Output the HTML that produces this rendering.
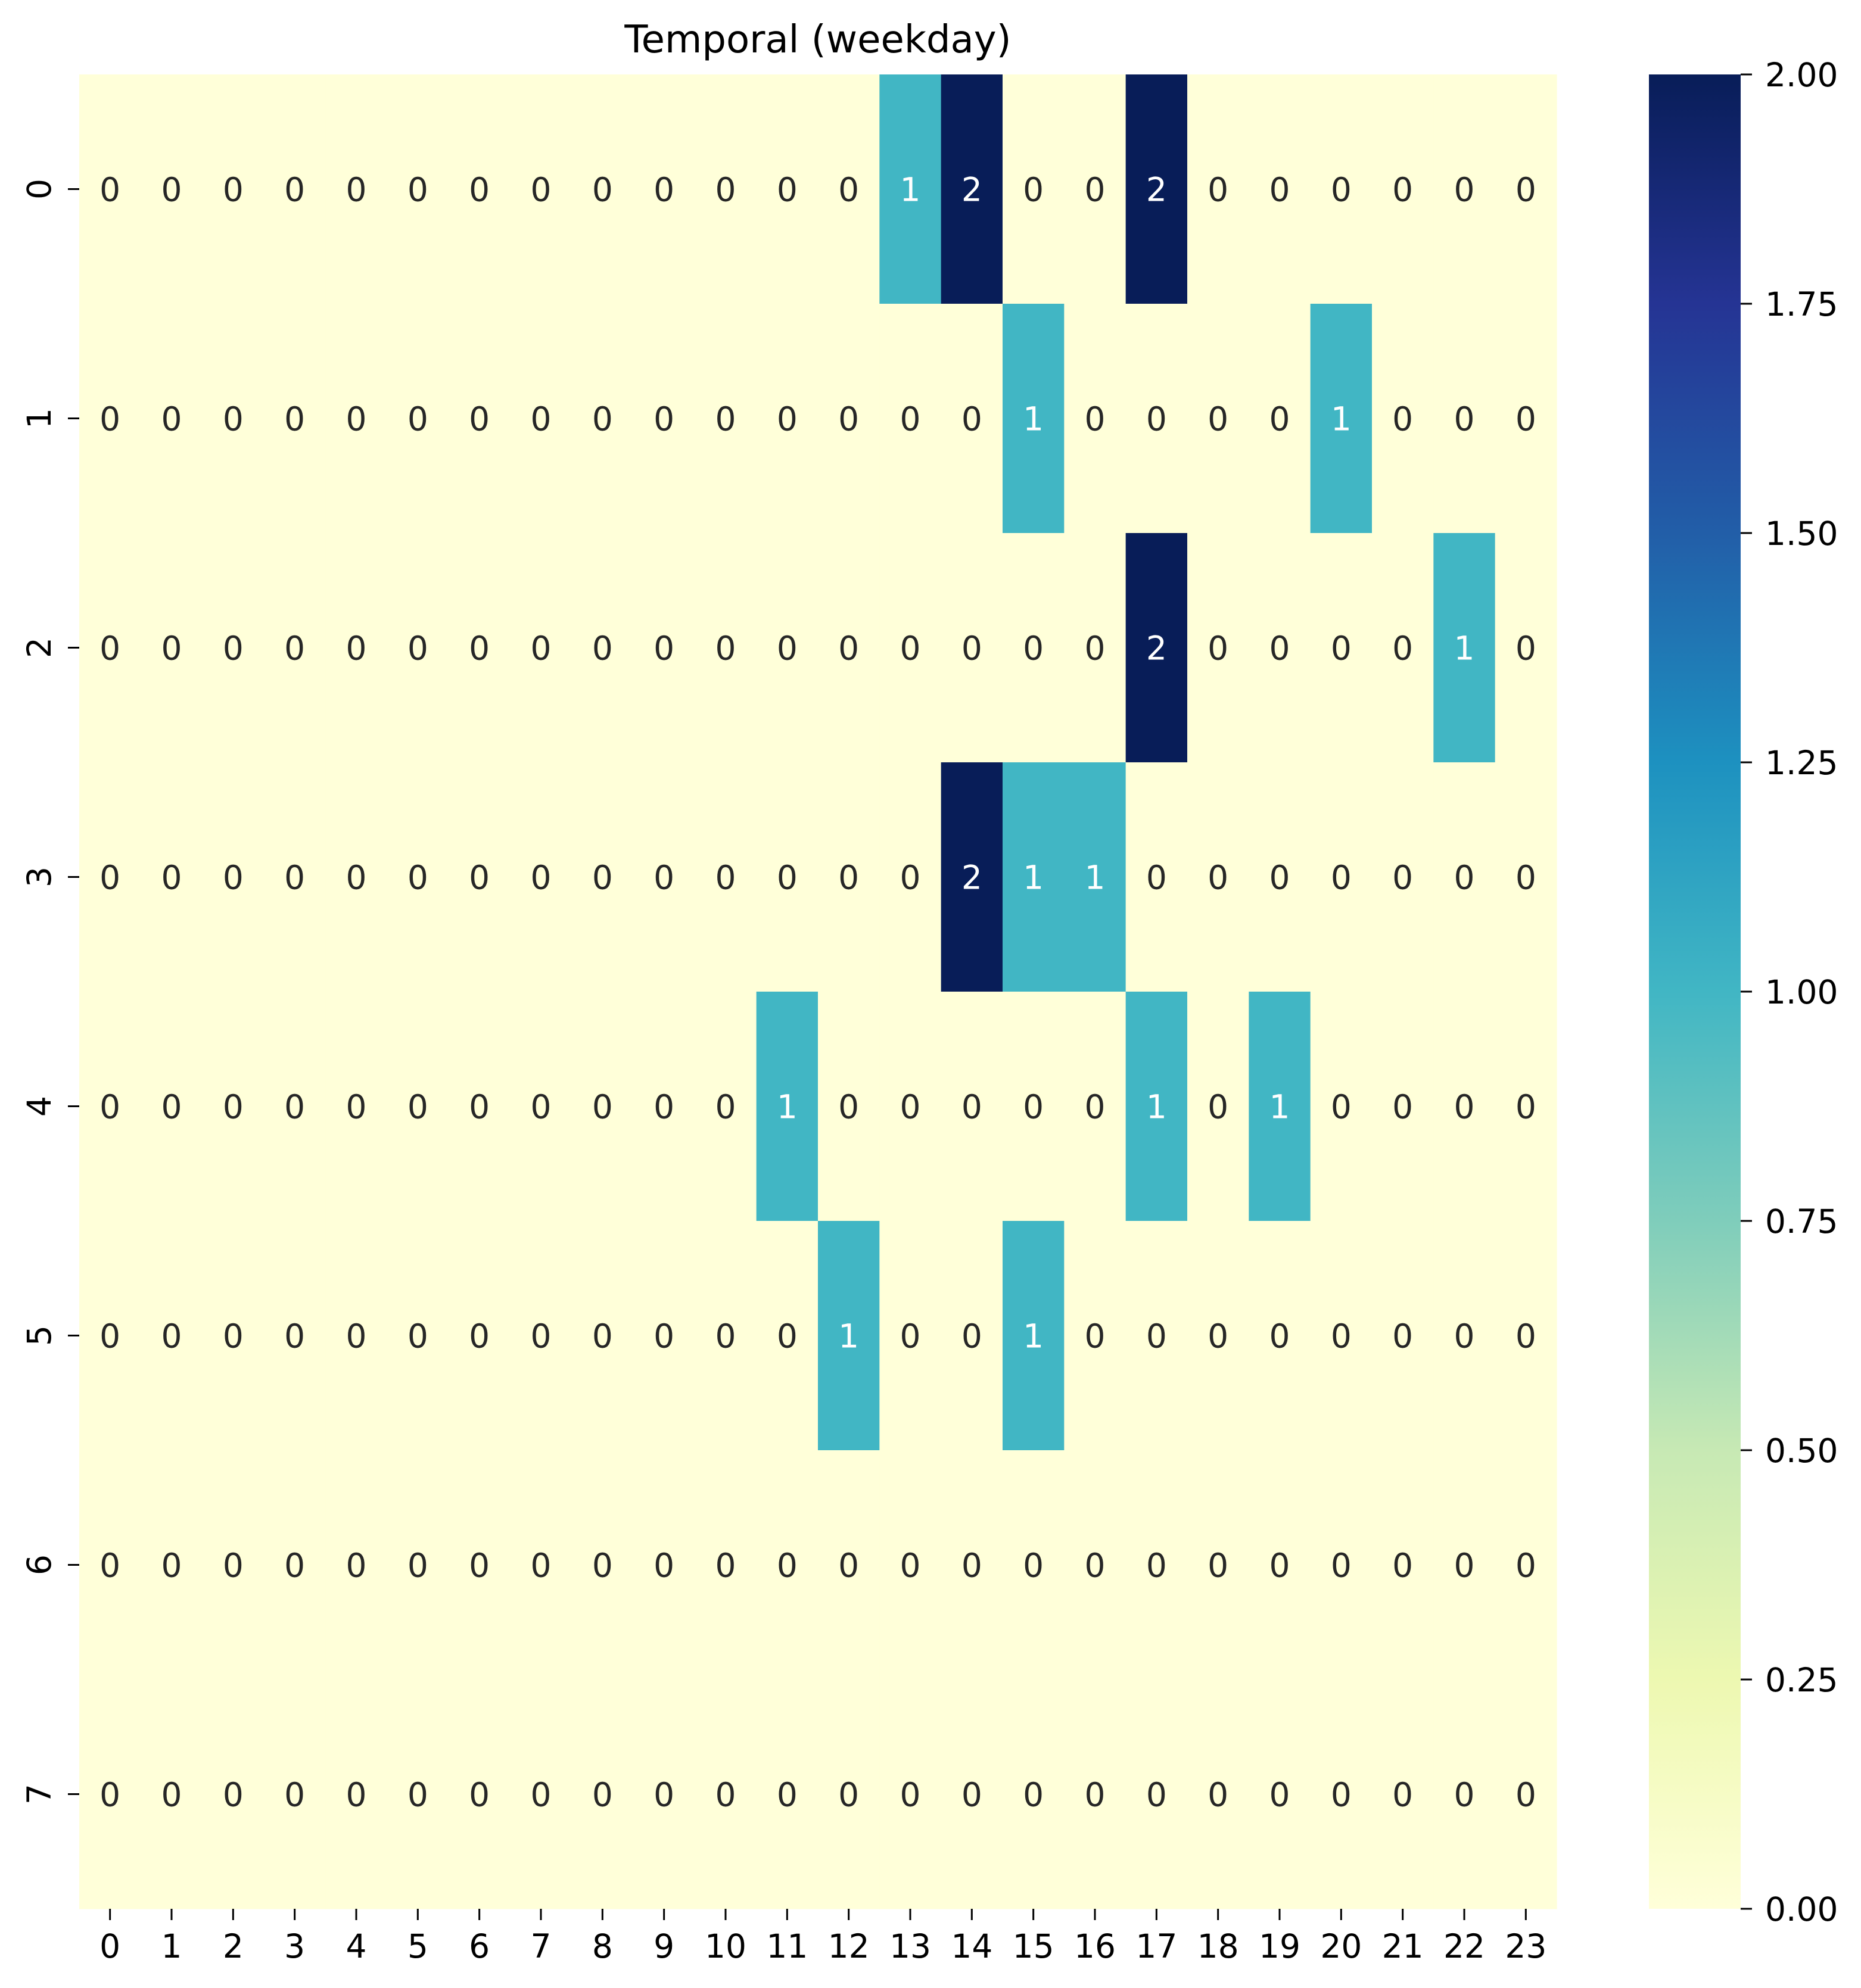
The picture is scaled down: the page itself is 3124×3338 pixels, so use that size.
<!DOCTYPE html>
<html><head><meta charset="utf-8"><style>
html,body{margin:0;padding:0;background:#fff;}
svg{display:block;font-family:"DejaVu Sans","Liberation Sans",sans-serif;}
</style></head><body>
<svg id="chart" width="3124" height="3338" viewBox="0 0 3124 3338" xmlns="http://www.w3.org/2000/svg">
<defs>
<linearGradient id="ylgnbu" x1="0" y1="1" x2="0" y2="0">
<stop offset="0" stop-color="#ffffd9"/><stop offset="0.125" stop-color="#edf8b1"/><stop offset="0.25" stop-color="#c7e9b4"/><stop offset="0.375" stop-color="#7fcdbb"/><stop offset="0.5" stop-color="#41b6c4"/><stop offset="0.625" stop-color="#1d91c0"/><stop offset="0.75" stop-color="#225ea8"/><stop offset="0.875" stop-color="#253494"/><stop offset="1" stop-color="#081d58"/>
</linearGradient>
</defs>
<text x="1373" y="88" font-size="64" text-anchor="middle" fill="#000">Temporal (weekday)</text>
<g id="cells"></g><g id="axes"></g><g id="cbar"></g>
</svg>
<script>
const hours = [0,1,2,3,4,5,6,7,8,9,10,11,12,13,14,15,16,17,18,19,20,21,22,23];
const days = [0,1,2,3,4,5,6,7];
const row0 = [0,0,0,0,0,0,0,0,0,0,0,0,0,1,2,0,0,2,0,0,0,0,0,0];
const row1 = [0,0,0,0,0,0,0,0,0,0,0,0,0,0,0,1,0,0,0,0,1,0,0,0];
const row2 = [0,0,0,0,0,0,0,0,0,0,0,0,0,0,0,0,0,2,0,0,0,0,1,0];
const row3 = [0,0,0,0,0,0,0,0,0,0,0,0,0,0,2,1,1,0,0,0,0,0,0,0];
const row4 = [0,0,0,0,0,0,0,0,0,0,0,1,0,0,0,0,0,1,0,1,0,0,0,0];
const row5 = [0,0,0,0,0,0,0,0,0,0,0,0,1,0,0,1,0,0,0,0,0,0,0,0];
const row6 = [0,0,0,0,0,0,0,0,0,0,0,0,0,0,0,0,0,0,0,0,0,0,0,0];
const row7 = [0,0,0,0,0,0,0,0,0,0,0,0,0,0,0,0,0,0,0,0,0,0,0,0];
const cbTicks = [0,0.25,0.5,0.75,1,1.25,1.5,1.75,2];
const cbLabels = ["0.00","0.25","0.50","0.75","1.00","1.25","1.50","1.75","2.00"];
const rows = [row0,row1,row2,row3,row4,row5,row6,row7];
const vmin = 0, vmax = 2;

const L=133,R=2613,T=125,B=3205;
const cw=(R-L)/hours.length, rh=(B-T)/days.length;
const xPos=i=>L+i*cw, yPos=j=>T+j*rh;
const CBL=2768,CBR=2922;
const cbY=v=>B-(v-vmin)/(vmax-vmin)*(B-T);
const NS="http://www.w3.org/2000/svg";
function mk(tag,attrs,parent){const e=document.createElementNS(NS,tag);for(const k in attrs)e.setAttribute(k,attrs[k]);parent.appendChild(e);return e;}
const stops=["#ffffd9","#edf8b1","#c7e9b4","#7fcdbb","#41b6c4","#1d91c0","#225ea8","#253494","#081d58"];
function color(v){let t=(v-vmin)/(vmax-vmin)*(stops.length-1);let i=Math.min(Math.floor(t),stops.length-2);let f=t-i;
 const a=stops[i],b=stops[i+1];const p=(s,k)=>parseInt(s.substr(1+2*k,2),16);
 let c=[0,1,2].map(k=>Math.round(p(a,k)+(p(b,k)-p(a,k))*f));return `rgb(${c.join(',')})`;}
const cells=document.getElementById('cells');
rows.forEach((row,j)=>{row.forEach((v,i)=>{
 const r=mk('rect',{x:xPos(i),y:yPos(j),width:cw+0.6,height:rh+0.6,fill:color(v)},cells);
 
 
 const t=mk('text',{x:xPos(i)+cw/2,y:yPos(j)+rh/2+20,'font-size':55,'text-anchor':'middle',fill:v>=1?'#ffffff':'#262626'},cells);
 t.textContent=v;
 
 
});});
const axes=document.getElementById('axes');
hours.forEach((h,i)=>{const x=xPos(i)+cw/2;
 const tk=mk('line',{x1:x,x2:x,y1:B,y2:B+19,stroke:'#000','stroke-width':3},axes);
 
 
 const t=mk('text',{x:x,y:B+82,'font-size':55,'text-anchor':'middle',fill:'#000'},axes);t.textContent=h;
 
 });
days.forEach((d,j)=>{const y=yPos(j)+rh/2;
 const tk=mk('line',{x1:L-19,x2:L,y1:y,y2:y,stroke:'#000','stroke-width':3},axes);
 
 
 const t=mk('text',{x:0,y:0,'font-size':55,'text-anchor':'middle',fill:'#000',transform:`translate(85,${y}) rotate(-90)`},axes);t.textContent=d;
 
 });
const cb=document.getElementById('cbar');
const bar=mk('rect',{x:CBL,y:T,width:CBR-CBL,height:B-T,fill:'url(#ylgnbu)'},cb);


cbTicks.forEach((v,k)=>{const y=cbY(v);
 const tk=mk('line',{x1:CBR,x2:CBR+19,y1:y,y2:y,stroke:'#000','stroke-width':3},cb);
 
 
 const t=mk('text',{x:CBR+41,y:y+20,'font-size':55,fill:'#000'},cb);t.textContent=cbLabels[k];
 
 });
</script>
</body></html>
